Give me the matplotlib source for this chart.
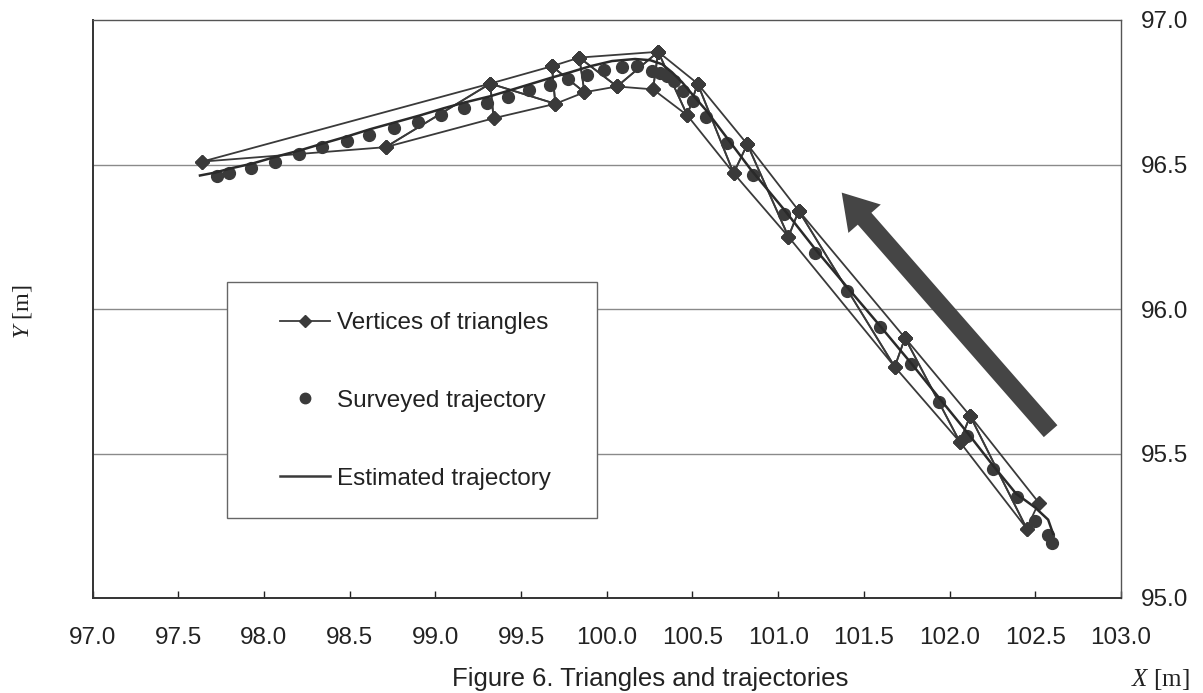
import matplotlib
matplotlib.use("Agg")
import matplotlib.pyplot as plt
from matplotlib.lines import Line2D
from matplotlib.patches import Rectangle, FancyArrowPatch, ArrowStyle

plt.rcParams['font.family'] = ['Liberation Sans', 'DejaVu Sans']
plt.rcParams['mathtext.fontset'] = 'custom'
plt.rcParams['mathtext.it'] = 'Liberation Serif:italic'
plt.rcParams['mathtext.rm'] = 'Liberation Serif'

# ---- data ----
vert_x = [97.64, 98.71, 99.32, 99.34, 99.68, 99.70, 99.84, 99.87, 100.06, 100.30,
          100.27, 100.53, 100.47, 100.82, 100.74, 101.12, 101.06, 101.74, 101.68,
          102.12, 102.06, 102.52, 102.45]
vert_y = [96.51, 96.56, 96.78, 96.66, 96.84, 96.71, 96.87, 96.75, 96.77, 96.89,
          96.76, 96.78, 96.67, 96.57, 96.47, 96.34, 96.25, 95.90, 95.80,
          95.63, 95.54, 95.33, 95.24]
triangles = [(0, 1, 2), (1, 2, 3), (2, 4, 5), (2, 3, 5), (4, 6, 7), (4, 5, 7),
             (6, 7, 8), (6, 8, 9), (8, 9, 10), (9, 11, 12), (9, 10, 12),
             (11, 13, 14), (11, 12, 14), (13, 15, 16), (13, 14, 16),
             (15, 17, 18), (15, 16, 18), (17, 19, 20), (17, 18, 20),
             (19, 21, 22), (19, 20, 22)]

surv_x = [97.728, 97.798, 97.923, 98.065, 98.207, 98.341, 98.483, 98.615, 98.757,
          98.897, 99.033, 99.167, 99.300, 99.422, 99.547, 99.669, 99.776, 99.883,
          99.984, 100.087, 100.175, 100.262, 100.311, 100.350, 100.393, 100.443,
          100.502, 100.579, 100.700, 100.855, 101.036, 101.215, 101.400, 101.594,
          101.775, 101.940, 102.104, 102.256, 102.392, 102.499, 102.576, 102.596]
surv_y = [96.461, 96.469, 96.489, 96.510, 96.538, 96.562, 96.582, 96.602, 96.627,
          96.648, 96.671, 96.694, 96.712, 96.735, 96.758, 96.775, 96.795, 96.810,
          96.827, 96.839, 96.842, 96.824, 96.816, 96.805, 96.790, 96.755,
          96.718, 96.666, 96.573, 96.463, 96.330, 96.194, 96.064, 95.936,
          95.809, 95.678, 95.560, 95.447, 95.350, 95.265, 95.219, 95.190]

est_x = [97.627, 97.715, 97.802, 97.931, 98.076, 98.211, 98.345, 98.485, 98.619,
         98.765, 98.911, 99.045, 99.173, 99.319, 99.436, 99.553, 99.669, 99.786,
         99.903, 100.031, 100.165, 100.253, 100.323, 100.381, 100.439, 100.503,
         100.579, 100.690, 100.836, 101.040, 101.215, 101.402, 101.595, 101.775,
         101.945, 102.108, 102.254, 102.388, 102.499, 102.575, 102.604]
est_y = [96.462, 96.472, 96.486, 96.503, 96.528, 96.549, 96.573, 96.597, 96.622,
         96.646, 96.670, 96.694, 96.715, 96.736, 96.757, 96.778, 96.799, 96.819,
         96.840, 96.858, 96.865, 96.861, 96.847, 96.819, 96.785, 96.740,
         96.688, 96.601, 96.486, 96.340, 96.208, 96.076, 95.941, 95.813,
         95.688, 95.569, 95.458, 95.361, 95.313, 95.271, 95.222]

arrow_tail = (102.60, 95.57)
arrow_head = (101.36, 96.41)

x_ticks = [97.0, 97.5, 98.0, 98.5, 99.0, 99.5, 100.0, 100.5, 101.0, 101.5, 102.0, 102.5, 103.0]
y_ticks = [95.0, 95.5, 96.0, 96.5, 97.0]
grid_y = [95.5, 96.0, 96.5]

labels = ["Vertices of triangles", "Surveyed trajectory", "Estimated trajectory"]

# ---- figure ----
W, H = 1203, 693
fig = plt.figure(figsize=(W / 100, H / 100), dpi=100)
ax = fig.add_axes([92.5 / W, 1 - 598 / H, (1121 - 92.5) / W, (598 - 20) / H])

c = '#3a3a3a'
for tri in triangles:
    idx = list(tri) + [tri[0]]
    ax.plot([vert_x[i] for i in idx], [vert_y[i] for i in idx], color=c, lw=1.3,
            marker='D', ms=7.5, mfc=c, mec=c, zorder=3)
ax.plot(surv_x, surv_y, ls='none', marker='o', ms=8.5, color=c, zorder=4)
ax.plot(est_x, est_y, color='#2a2a2a', lw=1.8, zorder=5)

arr = FancyArrowPatch(arrow_tail, arrow_head,
                      arrowstyle=ArrowStyle.Simple(head_length=25, head_width=31, tail_width=13),
                      mutation_scale=1, color='#454545', lw=0, zorder=6)
ax.add_patch(arr)

ax.set_xlim(97, 103)
ax.set_ylim(95, 97)
ax.set_xticks(x_ticks)
ax.set_xticklabels([f"{v:.1f}" for v in x_ticks])
ax.set_yticks(y_ticks)
ax.set_yticklabels([f"{v:.1f}" for v in y_ticks])
ax.yaxis.tick_right()
ax.tick_params(axis='y', length=0, pad=14, labelsize=17.5, colors='#222222')
ax.tick_params(axis='x', direction='in', length=5, width=1, pad=21, labelsize=17.5,
               colors='#222222', top=False)
ax.grid(False)
for yv in grid_y:
    ax.axhline(yv, color='#8a8a8a', lw=1.0, zorder=1)

ax.spines['left'].set_color('#333333')
ax.spines['bottom'].set_color('#333333')
ax.spines['left'].set_linewidth(1.4)
ax.spines['bottom'].set_linewidth(1.4)
ax.spines['top'].set_color('#555555')
ax.spines['right'].set_color('#555555')
ax.spines['top'].set_linewidth(1.0)
ax.spines['right'].set_linewidth(1.0)

# legend box + legend
rect = Rectangle((227 / W, 1 - 518 / H), (597 - 227) / W, (518 - 282) / H,
                 transform=fig.transFigure, fc='white', ec='#666666', lw=1.0,
                 zorder=7, clip_on=False)
ax.add_patch(rect)
handles = [Line2D([], [], color=c, lw=1.3, marker='D', ms=6.5),
           Line2D([], [], ls='none', marker='o', ms=7.5, color=c),
           Line2D([], [], color=c, lw=1.8)]
leg = ax.legend(handles, labels, loc='upper left', bbox_to_anchor=(280 / W, 1 - 312 / H),
                bbox_transform=fig.transFigure, frameon=False, borderpad=0,
                borderaxespad=0, handlelength=2.05, handletextpad=0.3,
                labelspacing=2.3, fontsize=17.5, numpoints=1)
leg.set_zorder(8)
for t in leg.get_texts():
    t.set_color('#222222')

fig.text(22 / W, 1 - 312 / H, r'$\mathit{Y}$ [m]', rotation=90, ha='center', va='center',
         fontsize=17.5, family='Liberation Serif', color='#222222')
fig.text(1160 / W, 1 - 679 / H, r'$\mathit{X}$ [m]', ha='center', va='center',
         fontsize=18, family='Liberation Serif', color='#222222')
fig.text(650 / W, 1 - 686 / H, "Figure 6. Triangles and trajectories", ha='center',
         va='baseline', fontsize=18.5, color='#222222')

fig.savefig("out.png", dpi=100)
